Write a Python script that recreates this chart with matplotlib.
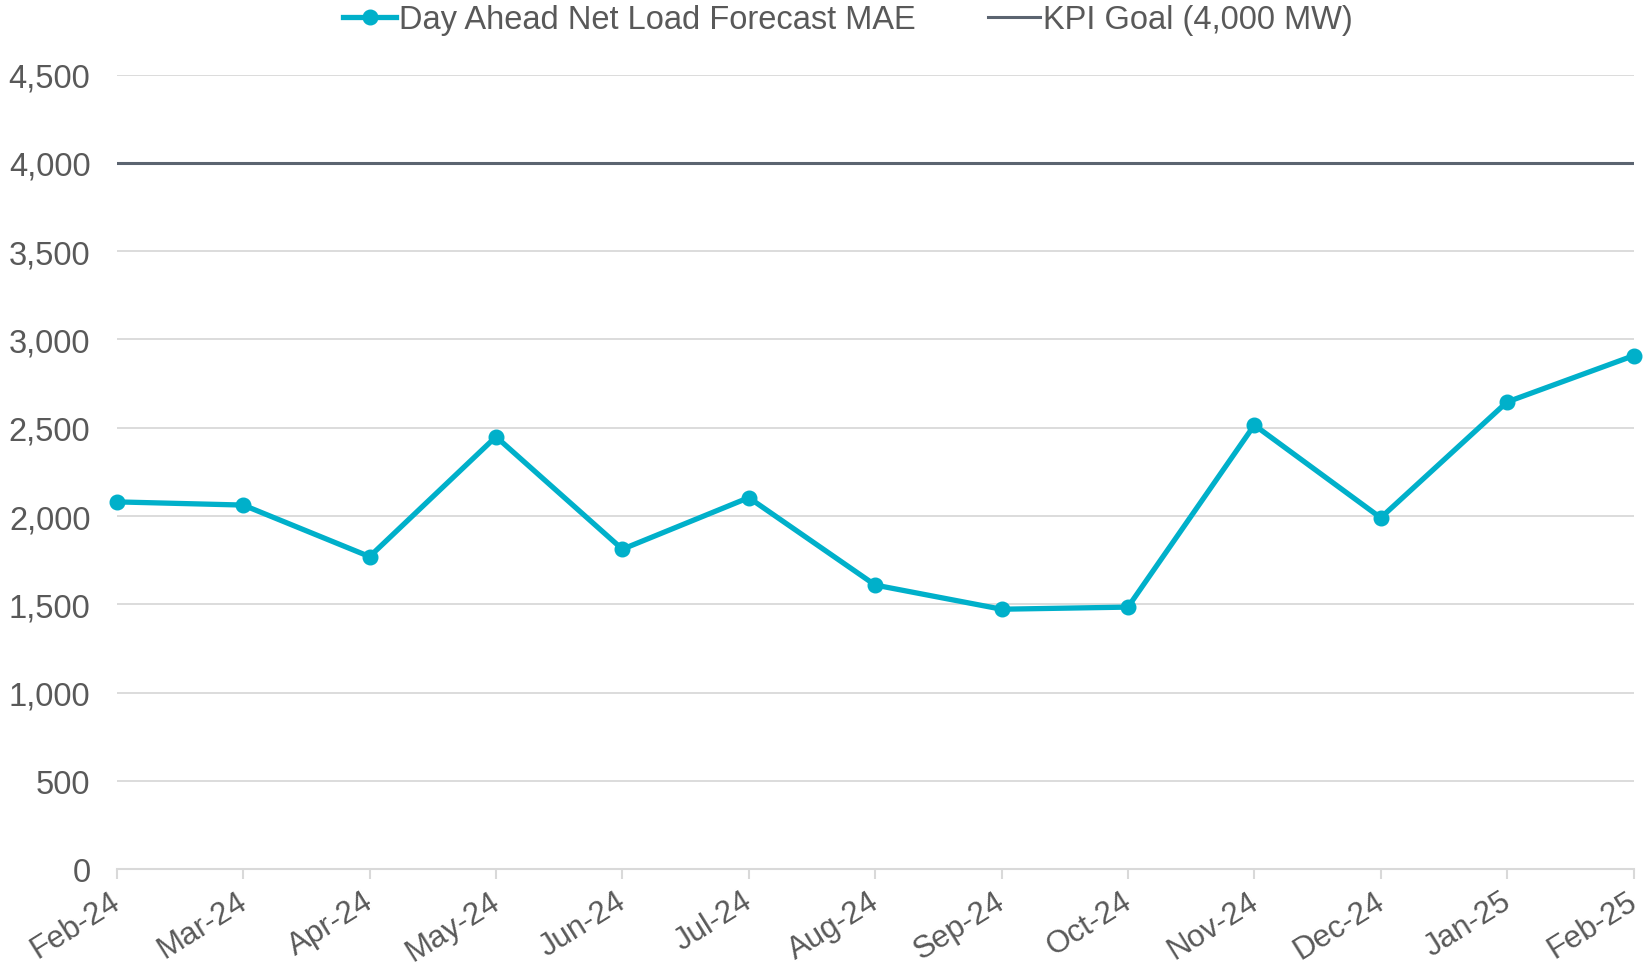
import matplotlib
matplotlib.use("Agg")
import matplotlib.pyplot as plt
import matplotlib.transforms as mtransforms
from matplotlib.ticker import FuncFormatter

# Datos
meses = ["Feb-24", "Mar-24", "Apr-24", "May-24", "Jun-24", "Jul-24", "Aug-24",
         "Sep-24", "Oct-24", "Nov-24", "Dec-24", "Jan-25", "Feb-25"]
mae = [2080, 2062, 1770, 2449, 1812, 2104, 1609, 1472, 1484, 2515, 1990, 2646, 2908]
kpi_goal = 4000

plt.rcParams["font.family"] = ["Liberation Sans", "DejaVu Sans"]
color_texto = "#595959"
color_linea = "#00B0CA"
color_kpi = "#5B6470"
color_grid = "#D9D9D9"
tam = 23.5

fig = plt.figure(figsize=(16.5, 9.7), dpi=100)
ax = fig.add_axes([0.0708, 0.103, 0.9192, 0.819])

x = list(range(len(meses)))
ax.plot(x, mae, color=color_linea, lw=3.8, marker="o", ms=10.5,
        label="Day Ahead Net Load Forecast MAE", zorder=3, clip_on=False)
ax.plot([x[0], x[-1]], [kpi_goal, kpi_goal], color=color_kpi, lw=2.2,
        label="KPI Goal (4,000 MW)", zorder=2)

ax.set_xlim(x[0], x[-1])
ax.set_ylim(0, 4500)
ax.set_yticks(range(0, 4501, 500))
ax.yaxis.set_major_formatter(FuncFormatter(lambda v, p: f"{int(v):,}"))
ax.grid(axis="y", color=color_grid, lw=1.3)
ax.set_axisbelow(True)

for s in ["top", "right", "left"]:
    ax.spines[s].set_visible(False)
ax.spines["bottom"].set_color(color_grid)
ax.spines["bottom"].set_linewidth(1.5)

ax.set_xticks(x)
ax.set_xticklabels(meses, rotation=32, ha="right", va="top",
                   rotation_mode="anchor")
ax.tick_params(axis="x", length=7, width=1.5, color=color_grid,
               labelsize=22.5, labelcolor=color_texto, pad=5)
ax.tick_params(axis="y", length=0, labelsize=tam, labelcolor=color_texto, pad=19)

# desplazar etiquetas del eje x un poco a la izquierda
desplazamiento = mtransforms.ScaledTranslation(-7 / 100, 0, fig.dpi_scale_trans)
for etiqueta in ax.get_xticklabels():
    etiqueta.set_transform(etiqueta.get_transform() + desplazamiento)

fig.legend(loc="upper center", bbox_to_anchor=(0.514, 1.025), ncol=2, frameon=False,
           fontsize=tam, labelcolor=color_texto, handlelength=1.6,
           handletextpad=0.1, columnspacing=2.2)

fig.savefig("out.png", dpi=100)
